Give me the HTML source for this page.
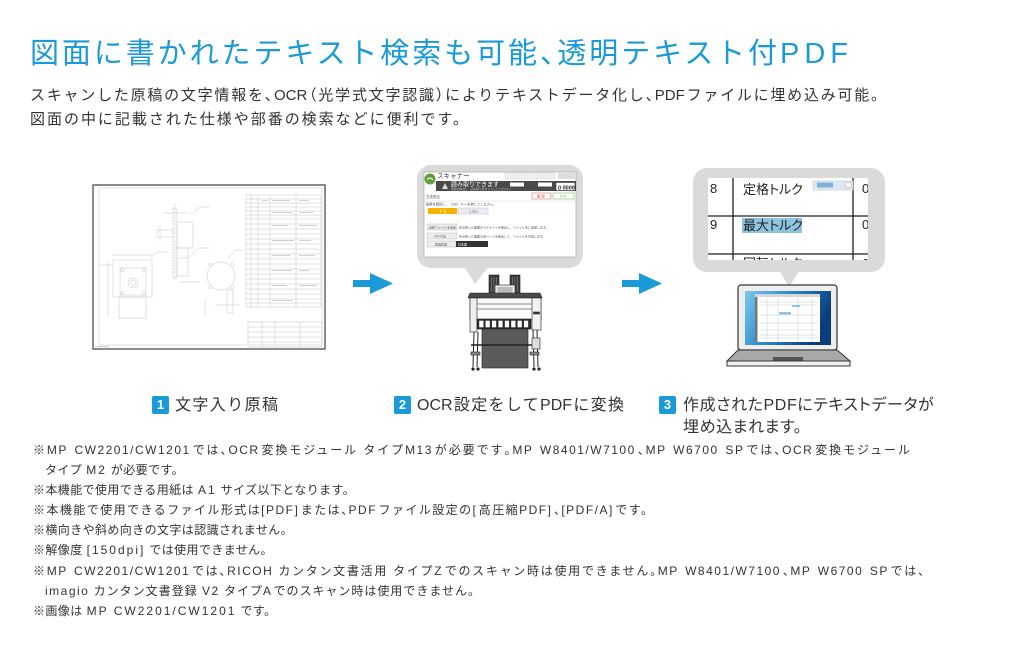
<!DOCTYPE html>
<html lang="ja">
<head>
<meta charset="utf-8">
<style>
*{margin:0;padding:0;box-sizing:border-box}
html,body{width:1012px;height:646px;overflow:hidden;background:#fff}
body{position:relative;font-family:"Liberation Sans","Noto Sans CJK JP",sans-serif;color:#333}
.t{position:absolute;text-align:justify;text-align-last:justify}
.n{position:absolute;white-space:nowrap}
.h{font-feature-settings:"halt"}
.title{left:30px;top:40px;width:818px;font-size:29px;line-height:29px;color:#1a9ad7}
.sub{left:30px;font-size:15px;line-height:24px}
.lab{font-size:16px;line-height:20px;top:395.5px}
.badge{position:absolute;width:17px;height:18px;background:#1a9ad6;border-radius:2px;color:#fff;font-weight:bold;font-size:13px;line-height:18px;text-align:center;font-family:"Liberation Sans",sans-serif}
.note{font-size:12px;line-height:20.1px;letter-spacing:0.4px}
.note.t{letter-spacing:0}
.l{letter-spacing:1.5px}
.l2{letter-spacing:2px;padding:0 4px}
</style>
</head>
<body>
<svg width="1012" height="646" viewBox="0 0 1012 646" style="position:absolute;left:0;top:0" xmlns="http://www.w3.org/2000/svg" font-family="Liberation Sans, Noto Sans CJK JP, sans-serif">
<defs>
<linearGradient id="lg" x1="0" y1="0" x2="1" y2="0.35">
<stop offset="0" stop-color="#7cc8ee"/><stop offset="0.45" stop-color="#2f8fcf"/><stop offset="1" stop-color="#0a3c7c"/>
</linearGradient>
<clipPath id="c3"><rect x="708" y="178" width="160" height="82"/></clipPath>
</defs>

<!-- Drawing -->
<rect x="93" y="185" width="232" height="164" fill="#fff" stroke="#4d4d4d" stroke-width="1.3"/>
<g fill="none" stroke="#c4c4c4" stroke-width="0.5">
<rect x="99" y="188" width="223" height="157"/>
<rect x="246" y="195" width="75" height="112"/>
<path d="M246 199h75M246 203h75M246 207h75M246 211h75M246 215h75M246 219h75M246 224h75M246 229h75M246 234h75M246 239h75M246 244h75M246 249h75M246 254h75M246 259h75M246 264h75M246 269h75M246 274h75M246 279h75M246 284h75M246 289h75M246 294h75M246 299h75M246 303h75"/>
<path d="M251 195v112M258 195v112M270 195v112M296 195v112"/>
<rect x="248" y="322" width="74" height="25"/>
<path d="M248 327h74M248 332h74M248 337h74M248 342h74M262 322v25M275 322v25M300 322v25"/>
<path d="M175 203v77" stroke-dasharray="3,1"/>
<rect x="173" y="208" width="4" height="70"/>
<rect x="177" y="222" width="16" height="26"/>
<rect x="177" y="248" width="11" height="28"/>
<rect x="157" y="230" width="16" height="7"/>
<path d="M163 213h25M190 215l10 -8h10M178 258h10l10 -10h12M160 226v16M180 282h20"/>
<rect x="113" y="260" width="39" height="37"/>
<rect x="120" y="268" width="26" height="27"/>
<circle cx="133" cy="283" r="5"/><circle cx="133" cy="283" r="3"/>
<circle cx="122" cy="270" r="1.5"/><circle cx="144" cy="270" r="1.5"/><circle cx="122" cy="293" r="1.5"/><circle cx="144" cy="293" r="1.5"/>
<rect x="119" y="297" width="27" height="21"/>
<path d="M108 262v55M113 255h39M100 265h12M150 258l8 -6h10"/>
<circle cx="221" cy="276" r="14"/>
<circle cx="210" cy="265" r="1.5"/><circle cx="232" cy="265" r="1.5"/><circle cx="210" cy="287" r="1.5"/><circle cx="232" cy="287" r="1.5"/>
<rect x="227" y="290" width="6" height="23"/>
<path d="M221 276h0.5M228 258l8 -8h8M215 305h25M205 300v15"/>
</g>
<g fill="#d0d0d0">
<rect x="262" y="200" width="6" height="1"/><rect x="272" y="200" width="18" height="1"/><rect x="299" y="200" width="10" height="1"/>
<rect x="272" y="212" width="20" height="1"/><rect x="299" y="212" width="14" height="1"/>
<rect x="272" y="225" width="16" height="1"/><rect x="299" y="225" width="18" height="1"/>
<rect x="272" y="240" width="22" height="1"/><rect x="299" y="240" width="12" height="1"/>
<rect x="272" y="255" width="18" height="1"/><rect x="299" y="255" width="16" height="1"/>
<rect x="272" y="270" width="20" height="1"/><rect x="299" y="270" width="10" height="1"/>
<rect x="272" y="285" width="15" height="1"/><rect x="299" y="285" width="18" height="1"/>
<rect x="272" y="300" width="21" height="1"/>
<rect x="95" y="346" width="14" height="1.2"/>
</g>

<!-- Arrows -->
<g fill="#1a9ad6">
<rect x="353" y="280" width="18" height="7"/>
<polygon points="370,273 393,283.5 370,294"/>
<rect x="622" y="280" width="18" height="7"/>
<polygon points="639,273 662,283.5 639,294"/>
</g>

<!-- Bubble 2 -->
<rect x="417" y="165" width="166" height="103" rx="14" fill="#dadada"/>
<polygon points="464,266 489,266 475,284" fill="#dadada"/>
<rect x="424" y="172" width="152" height="85" fill="#fff" stroke="#a0a0a0" stroke-width="0.6"/>
<rect x="436" y="181" width="140" height="10" fill="#4a4a4a"/>
<circle cx="430" cy="179" r="5.5" fill="#5e9e3c"/>
<path d="M427 180 q3 -4 6 0" stroke="#fff" fill="none" stroke-width="1"/>
<text x="437" y="178" font-size="6.5" fill="#333">スキャナー</text>
<rect x="505" y="173" width="24" height="6" fill="#f0f0f0" stroke="#ccc" stroke-width="0.4"/>
<rect x="531" y="173" width="24" height="6" fill="#f0f0f0" stroke="#ccc" stroke-width="0.4"/>
<rect x="558" y="173" width="17" height="6" fill="#ddd"/>
<path d="M442 189 l3 -6 l3 6z" fill="#ddd"/>
<text x="451" y="186.5" font-size="6" fill="#fff">読み取りできます</text>
<text x="451" y="190.2" font-size="2.8" fill="#ccc">原稿を確認し、読み取りをセットしてください。</text>
<rect x="510" y="182.5" width="14" height="4" fill="#fff"/>
<rect x="538" y="182.5" width="14" height="4" fill="#fff"/>
<rect x="556" y="182.5" width="19" height="8" fill="#fff" stroke="#222" stroke-width="0.5"/>
<text x="558" y="189.3" font-size="5.5" fill="#222" font-weight="bold">0 0000</text>
<text x="426" y="198" font-size="3.5" fill="#555">文書設定</text>
<rect x="532" y="193" width="19" height="6" fill="#fff" stroke="#e07070" stroke-width="0.6"/>
<text x="537" y="197.6" font-size="3.5" fill="#d04040">解 除</text>
<rect x="553" y="193" width="21" height="6" fill="#fff" stroke="#7cbf5a" stroke-width="0.6"/>
<text x="560" y="197.6" font-size="3.5" fill="#4a9a30">O K</text>
<line x1="424" y1="201" x2="576" y2="201" stroke="#ccc" stroke-width="0.4"/>
<text x="426" y="205.5" font-size="3.3" fill="#555">帳票を識別し、［OK］キーを押してください。</text>
<rect x="428" y="208" width="29" height="6" fill="#f5b400"/>
<text x="439" y="212.4" font-size="3.2" fill="#fff">す る</text>
<rect x="458" y="208" width="30" height="6" fill="#ececf2" stroke="#b0b0b8" stroke-width="0.4"/>
<text x="469" y="212.4" font-size="3.2" fill="#555">しない</text>
<rect x="427" y="224" width="30" height="6" fill="#eee" stroke="#aaa" stroke-width="0.4"/>
<text x="429" y="228.3" font-size="3" fill="#555">自動ファイル名追加</text>
<text x="459" y="228.3" font-size="3" fill="#555">読み取った図面からテキストを抽出し、ファイル名に追加します。</text>
<rect x="427" y="233" width="30" height="6" fill="#eee" stroke="#aaa" stroke-width="0.4"/>
<text x="434" y="237.3" font-size="3" fill="#555">PDF付加</text>
<text x="459" y="237.3" font-size="3" fill="#555">読み取った図面の全ページを抽出して、ファイルを付加します。</text>
<rect x="427" y="241" width="29" height="6" fill="#eee" stroke="#aaa" stroke-width="0.4"/>
<text x="435" y="245.3" font-size="3" fill="#555">認識言語</text>
<rect x="456" y="241" width="32" height="6" fill="#333"/>
<text x="458" y="245.3" font-size="3" fill="#fff">日本語</text>

<!-- Printer -->
<g stroke="#222" stroke-width="0.6">
<rect x="489" y="275" width="10" height="19" fill="#3a3a3a"/>
<rect x="510" y="275" width="10" height="19" fill="#3a3a3a"/>
<path d="M491.5 277v15M494 277v15M496.5 277v15M512.5 277v15M515 277v15M517.5 277v15" stroke="#999" stroke-width="0.5"/>
<rect x="495" y="285" width="20" height="10" fill="#e8e8e8"/>
<rect x="497.5" y="287" width="15" height="6" fill="#bbb" stroke="none"/>
<path d="M468 298 L470 293 L540 293 L542 298 Z" fill="#4a4a4a"/>
<rect x="470" y="298" width="71" height="22" fill="#fafafa"/>
<line x1="477" y1="304" x2="532" y2="304"/>
<line x1="477" y1="309" x2="532" y2="309"/>
<rect x="470" y="298" width="7" height="34" fill="#eee"/>
<rect x="532" y="298" width="9" height="32" fill="#f2f2f2"/>
<rect x="533.5" y="312" width="6" height="2" fill="#444"/>
<rect x="477" y="319" width="54" height="10" fill="#2a2a2a"/>
<g fill="#fff" stroke="#333" stroke-width="0.4">
<rect x="479" y="320.5" width="4.6" height="7"/><rect x="485.4" y="320.5" width="4.6" height="7"/><rect x="491.8" y="320.5" width="4.6" height="7"/><rect x="498.2" y="320.5" width="4.6" height="7"/><rect x="504.6" y="320.5" width="4.6" height="7"/><rect x="511" y="320.5" width="4.6" height="7"/><rect x="517.4" y="320.5" width="4.6" height="7"/><rect x="523.8" y="320.5" width="4.6" height="7"/>
</g>
<rect x="482" y="329" width="46" height="39" fill="#5a5a5a"/>
<line x1="471" y1="345" x2="539" y2="345" stroke-width="1.6"/>
<path d="M474 332 L473 367 M478 332 L477 367 M533 330 L534 367 M537 330 L538 367" stroke-width="1" fill="none"/>
<rect x="532" y="338" width="8" height="11" fill="#ddd"/>
<rect x="471" y="352" width="9" height="3" fill="#888"/>
<rect x="530" y="352" width="9" height="3" fill="#888"/>
</g>
<g fill="#222">
<circle cx="473" cy="369" r="1.6"/><circle cx="478" cy="369" r="1.6"/><circle cx="534" cy="369" r="1.6"/><circle cx="539" cy="369" r="1.6"/>
</g>

<!-- Bubble 3 -->
<rect x="693" y="168" width="192" height="104" rx="14" fill="#dadada"/>
<polygon points="779,270 800,270 789,287" fill="#dadada"/>
<rect x="708" y="178" width="160" height="82" fill="#fff"/>
<g clip-path="url(#c3)">
<path d="M733 178V260M853 178V260" stroke="#222" stroke-width="1.3"/>
<path d="M708 216H868M708 254H868" stroke="#222" stroke-width="1.2"/>
<rect x="742" y="218" width="60" height="15" fill="#8cc4e2"/>
<g font-size="13" fill="#222" style="font-feature-settings:'palt'">
<text x="710" y="193">8</text>
<text x="743" y="194">定格トルク</text>
<text x="862" y="193">0</text>
<text x="710" y="229">9</text>
<text x="743" y="230">最大トルク</text>
<text x="862" y="229">0</text>
<text x="743" y="268">回転トルク</text>
<text x="862" y="268">0</text>
</g>
<rect x="813" y="181" width="40" height="9" fill="#dde8f2" stroke="#b8c8d8" stroke-width="0.5"/>
<rect x="817" y="182.5" width="16" height="5" fill="#7fb2da"/>
<rect x="846" y="182.5" width="5" height="5" fill="#fff" stroke="#999" stroke-width="0.4"/>
</g>

<!-- Laptop -->
<rect x="738" y="285" width="99" height="65" rx="3" fill="#eeeeee" stroke="#333" stroke-width="1.2"/>
<rect x="745" y="291" width="86" height="54" fill="url(#lg)"/>
<rect x="755" y="294" width="65" height="48" fill="#fff"/>
<rect x="755" y="294" width="65" height="3" fill="#d8d8d8"/>
<rect x="755" y="297" width="2.5" height="45" fill="#777"/>
<g stroke="#bbb" stroke-width="0.4" fill="none">
<path d="M767 298v44M778 298v44M798 298v44M812 298v44"/>
<path d="M760 302h58M760 305h58M760 315h58M760 323h58M760 330h58M760 335h58M760 338h58"/>
</g>
<rect x="779" y="312" width="12" height="2.5" fill="#8cc4e2"/>
<rect x="792" y="305" width="8" height="2" fill="#8cc4e2"/>
<path d="M738 350 L837 350 L850 361 L727 361 Z" fill="#a8a8a8" stroke="#333" stroke-width="1"/>
<rect x="727" y="361" width="123" height="5" fill="#f0f0f0" stroke="#333" stroke-width="1"/>
<rect x="773" y="357" width="30" height="3.5" fill="#555"/>
</svg>

<div class="t title">図面に書かれたテキスト検索も可能<span class="h">、</span>透明テキスト付<span style="letter-spacing:5px">PD</span>F</div>
<div class="t sub" style="top:83.5px;width:856px">スキャンした原稿の文字情報を<span class="h">、</span>OCR<span class="h">（</span>光学式文字認識<span class="h">）</span>によりテキストデータ化し<span class="h">、</span>PDFファイルに埋め込み可能。</div>
<div class="t sub" style="top:107.5px;width:438px">図面の中に記載された仕様や部番の検索などに便利です。</div>

<div class="badge" style="left:152px;top:396px">1</div>
<div class="t lab" style="left:175px;width:103px">文字入り原稿</div>
<div class="badge" style="left:394px;top:396px">2</div>
<div class="t lab" style="left:417px;width:207px">OCR設定をしてPDFに変換</div>
<div class="badge" style="left:659px;top:396px">3</div>
<div class="n lab" style="left:683px;letter-spacing:0.6px;font-feature-settings:'palt'">作成されたPDFにテキストデータが</div>
<div class="n lab" style="left:683px;top:417.5px;letter-spacing:0.6px;font-feature-settings:'palt'">埋め込まれます。</div>

<div class="t note" style="left:33px;top:440.35px;width:877px">※<span class="l">MP CW2201/CW1201</span>では<span class="h">、</span><span class="l">OCR</span>変換モジュール タイプ<span class="l">M13</span>が必要です<span class="h">。</span><span class="l">MP W8401/W7100</span><span class="h">、</span><span class="l">MP W6700 SP</span>では<span class="h">、</span><span class="l">OCR</span>変換モジュール</div>
<div class="n note" style="left:45px;top:459.85px">タイプ<span class="l2">M2</span>が必要です。</div>
<div class="n note" style="left:33px;top:480.35px">※本機能で使用できる用紙は<span class="l2">A1</span>サイズ以下となります。</div>
<div class="t note" style="left:33px;top:500.35px;width:620px">※本機能で使用できるファイル形式は<span class="l">[PDF]</span>または<span class="h">、</span><span class="l">PDF</span>ファイル設定の<span class="l">[</span>高圧縮<span class="l">PDF]</span><span class="h">、</span><span class="l">[PDF/A]</span>です。</div>
<div class="n note" style="left:33px;top:520.35px">※横向きや斜め向きの文字は認識されません。</div>
<div class="n note" style="left:33px;top:540.35px">※解像度<span class="l2">[150dpi]</span>では使用できません。</div>
<div class="t note" style="left:33px;top:561.35px;width:897px">※<span class="l">MP CW2201/CW1201</span>では<span class="h">、</span><span class="l">RICOH</span> カンタン文書活用 タイプ<span class="l">Z</span>でのスキャン時は使用できません<span class="h">。</span><span class="l">MP W8401/W7100</span><span class="h">、</span><span class="l">MP W6700 SP</span>では、</div>
<div class="t note" style="left:45px;top:581.35px;width:435px"><span class="l">imagio</span> カンタン文書登録 <span class="l">V2</span> タイプ<span class="l">A</span>でのスキャン時は使用できません。</div>
<div class="n note" style="left:33px;top:601.35px">※画像は<span class="l2">MP CW2201/CW1201</span>です。</div>
</body>
</html>
